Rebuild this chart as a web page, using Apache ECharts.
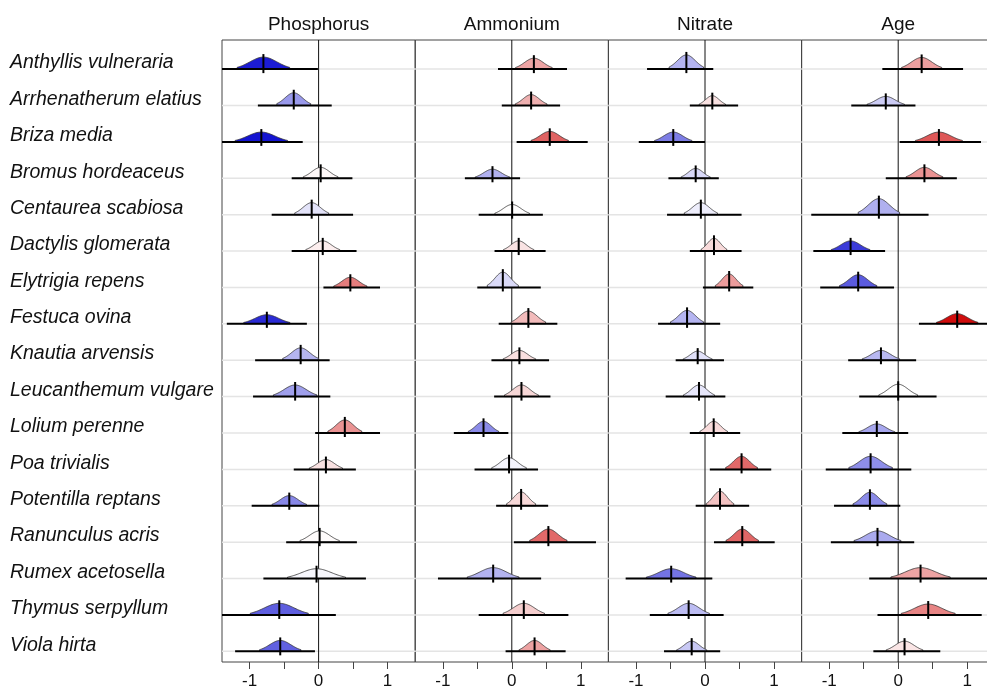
<!DOCTYPE html>
<html>
<head>
<meta charset="utf-8">
<script src="https://cdn.jsdelivr.net/npm/echarts@6/dist/echarts.min.js"></script>
<style>html,body{margin:0;padding:0;background:#fff;overflow:hidden}#c{width:1000px;height:690px}</style>
</head>
<body>
<div id="c"></div>
<script>
const species = ["Anthyllis vulneraria","Arrhenatherum elatius","Briza media","Bromus hordeaceus","Centaurea scabiosa","Dactylis glomerata","Elytrigia repens","Festuca ovina","Knautia arvensis","Leucanthemum vulgare","Lolium perenne","Poa trivialis","Potentilla reptans","Ranunculus acris","Rumex acetosella","Thymus serpyllum","Viola hirta"];
const panelTitles = ["Phosphorus","Ammonium","Nitrate","Age"];
const xTicks = [-1,-0.5,0,0.5,1];
const xLabels = [-1,0,1];
// each row: [mean, interval low, interval high, density half-width, density peak]
const phosphorus = [
 [-0.80,-1.45,-0.01,0.38,0.33],[-0.36,-0.88,0.19,0.245,0.35],[-0.83,-1.42,-0.23,0.38,0.27],[0.03,-0.39,0.49,0.25,0.30],
 [-0.10,-0.68,0.50,0.245,0.33],[0.06,-0.39,0.55,0.245,0.28],[0.46,0.07,0.89,0.24,0.28],[-0.75,-1.33,-0.17,0.335,0.25],
 [-0.26,-0.92,0.16,0.26,0.34],[-0.34,-0.95,0.17,0.315,0.32],[0.38,-0.05,0.89,0.245,0.36],[0.106,-0.36,0.54,0.24,0.27],
 [-0.425,-0.97,0.01,0.25,0.28],[0.015,-0.47,0.555,0.285,0.31],[-0.03,-0.80,0.686,0.42,0.27],[-0.57,-1.45,0.25,0.42,0.32],
 [-0.556,-1.21,-0.053,0.30,0.30]];
const ammonium = [
 [0.32,-0.20,0.80,0.265,0.30],[0.28,-0.145,0.70,0.23,0.30],[0.55,0.07,1.10,0.27,0.29],[-0.28,-0.68,0.12,0.25,0.25],
 [0.005,-0.48,0.45,0.25,0.28],[0.10,-0.25,0.49,0.22,0.28],[-0.13,-0.50,0.42,0.225,0.42],[0.24,-0.19,0.66,0.25,0.35],
 [0.11,-0.295,0.54,0.235,0.27],[0.14,-0.256,0.56,0.245,0.32],[-0.41,-0.84,-0.05,0.22,0.32],[-0.04,-0.54,0.38,0.25,0.32],
 [0.135,-0.227,0.527,0.21,0.38],[0.53,0.03,1.22,0.27,0.36],[-0.27,-1.07,0.425,0.375,0.30],[0.174,-0.48,0.82,0.30,0.32],
 [0.33,-0.09,0.78,0.225,0.30]];
const nitrate = [
 [-0.27,-0.84,0.12,0.25,0.39],[0.106,-0.22,0.48,0.19,0.27],[-0.46,-0.96,0.0,0.27,0.27],[-0.135,-0.53,0.20,0.21,0.27],
 [-0.06,-0.55,0.53,0.24,0.33],[0.13,-0.22,0.53,0.185,0.35],[0.35,-0.03,0.70,0.20,0.37],[-0.26,-0.68,0.22,0.24,0.37],
 [-0.106,-0.425,0.275,0.21,0.25],[-0.087,-0.57,0.295,0.225,0.32],[0.126,-0.22,0.51,0.20,0.32],[0.53,0.07,0.96,0.23,0.36],
 [0.217,-0.135,0.64,0.20,0.40],[0.54,0.13,1.01,0.235,0.36],[-0.49,-1.15,0.106,0.36,0.27],[-0.237,-0.80,0.27,0.30,0.32],
 [-0.193,-0.594,0.22,0.218,0.28]];
const age = [
 [0.34,-0.23,0.94,0.29,0.32],[-0.18,-0.68,0.25,0.27,0.25],[0.59,0.02,1.20,0.34,0.27],[0.38,-0.18,0.85,0.265,0.30],
 [-0.28,-1.26,0.44,0.30,0.44],[-0.69,-1.23,-0.19,0.28,0.28],[-0.58,-1.13,-0.06,0.27,0.35],[0.855,0.30,1.40,0.30,0.28],
 [-0.25,-0.725,0.26,0.27,0.27],[0.0,-0.565,0.556,0.28,0.34],[-0.31,-0.81,0.145,0.26,0.25],[-0.40,-1.05,0.19,0.315,0.36],
 [-0.41,-0.93,0.03,0.245,0.37],[-0.30,-0.976,0.232,0.34,0.31],[0.324,-0.42,1.35,0.43,0.30],[0.435,-0.30,1.21,0.39,0.30],
 [0.092,-0.36,0.61,0.265,0.28]];
const panels = [phosphorus, ammonium, nitrate, age];

const XMIN = -1.4, XMAX = 1.4, YMIN = -0.293, YMAX = 16.8;
const PL = 222, PW = 193.2, PT = 40, PH = 625;
const FONT = "'Liberation Sans', Arial, sans-serif";

function fillColor(m) {
  const t = Math.min(Math.abs(m) / 0.9, 1);
  const hi = Math.round(255 * (1 - t));
  const main = Math.round(255 - 50 * t);
  return m < 0 ? `rgb(${hi},${hi},${main})` : `rgb(${main},${hi},${hi})`;
}

const grids = [], xAxes = [], yAxes = [], series = [], titles = [];
const n = species.length;
panels.forEach((rows, p) => {
  grids.push({left: PL + p * PW, top: PT, width: PW, height: PH, show: true,
    borderColor: '#444', borderWidth: 1, backgroundColor: 'transparent'});
  xAxes.push({type: 'value', gridIndex: p, min: XMIN, max: XMAX, position: 'bottom',
    axisLine: {show: false, onZero: false}, splitLine: {show: false},
    axisTick: {show: true, customValues: xTicks, length: 7, lineStyle: {color: '#444', width: 1}},
    axisLabel: {customValues: xLabels, fontSize: 17, color: '#111', margin: 11, fontFamily: FONT,
      formatter: v => String(v)}});
  yAxes.push({type: 'value', gridIndex: p, min: YMIN, max: YMAX, position: 'left',
    axisLine: {show: false, onZero: false}, axisTick: {show: false}, splitLine: {show: false},
    axisLabel: p === 0 ? {show: true, customValues: species.map((s, i) => n - 1 - i + 0.17),
      formatter: v => species[n - 1 - Math.round(v - 0.17)], align: 'left', margin: 212,
      fontSize: 19.5, fontStyle: 'italic', color: '#111', fontFamily: FONT} : {show: false}});
  titles.push({text: panelTitles[p], left: PL + p * PW + PW / 2, textAlign: 'center', top: 15, padding: 0,
    textStyle: {fontSize: 19, fontWeight: 'normal', color: '#111', fontFamily: FONT}});
  const data = rows.map((r, i) => [n - 1 - i, r[0], r[1], r[2], r[3], r[4]]);
  // grid lines at each row baseline
  series.push({type: 'custom', xAxisIndex: p, yAxisIndex: p, clip: true, silent: true,
    data: data, encode: {x: 1, y: 0},
    renderItem: (params, api) => {
      const y = api.value(0);
      const a = api.coord([XMIN, y]), b = api.coord([XMAX, y]);
      return {type: 'line', shape: {x1: a[0], y1: a[1], x2: b[0], y2: b[1]},
        style: {stroke: '#e4e4e4', lineWidth: 1.5}};
    }});
  // zero reference line
  series.push({type: 'custom', xAxisIndex: p, yAxisIndex: p, clip: true, silent: true,
    data: [[0]], encode: {x: 0},
    renderItem: (params, api) => {
      const a = api.coord([0, YMIN]), b = api.coord([0, YMAX]);
      return {type: 'line', shape: {x1: a[0], y1: a[1], x2: b[0], y2: b[1]},
        style: {stroke: '#111', lineWidth: 1}};
    }});
  // density, interval and mean tick
  series.push({type: 'custom', xAxisIndex: p, yAxisIndex: p, clip: true, silent: true,
    data: data, encode: {x: [1, 2, 3], y: 0},
    renderItem: (params, api) => {
      const y = api.value(0), m = api.value(1), lo = api.value(2), hi = api.value(3),
            w = api.value(4), pk = api.value(5);
      const sd = w / 1.95, N = 48, pts = [api.coord([m - w, y])];
      for (let k = 0; k <= N; k++) {
        const x = m - w + 2 * w * k / N;
        pts.push(api.coord([x, y + pk * Math.exp(-0.5 * Math.pow((x - m) / sd, 2))]));
      }
      pts.push(api.coord([m + w, y]));
      const l1 = api.coord([lo, y]), l2 = api.coord([hi, y]);
      const c0 = api.coord([m, y]), cTop = api.coord([m, y + pk]);
      return {type: 'group', children: [
        {type: 'polygon', shape: {points: pts}, style: {fill: fillColor(m), stroke: '#333', lineWidth: 0.8}},
        {type: 'line', shape: {x1: l1[0], y1: l1[1], x2: l2[0], y2: l2[1]}, style: {stroke: '#000', lineWidth: 2}},
        {type: 'line', shape: {x1: c0[0], y1: c0[1] + 4, x2: c0[0], y2: cTop[1] - 3}, style: {stroke: '#000', lineWidth: 2}}
      ]};
    }});
});

const chart = echarts.init(document.getElementById('c'), null, {renderer: 'canvas'});
chart.setOption({animation: false, backgroundColor: '#fff', title: titles,
  grid: grids, xAxis: xAxes, yAxis: yAxes, series: series});
</script>
</body>
</html>
